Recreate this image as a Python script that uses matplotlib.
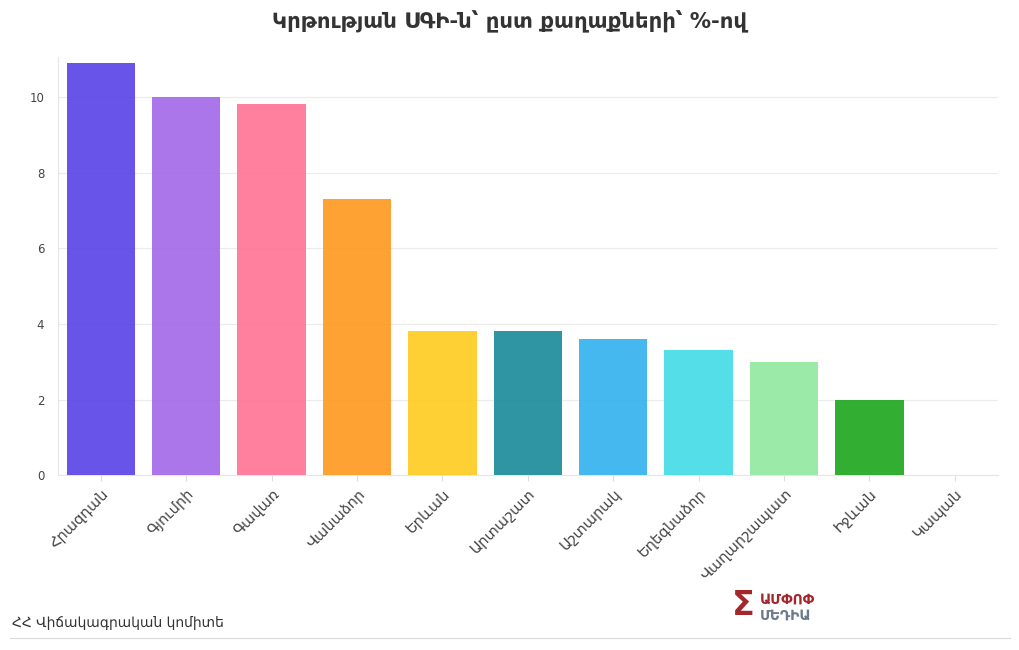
import matplotlib.pyplot as plt

cities = ["Հրազդան", "Գյումրի", "Գավառ", "Վանաձոր", "Երևան", "Արտաշատ",
          "Աշտարակ", "Եղեգնաձոր", "Վաղարշապատ", "Իջևան", "Կապան"]
values = [10.9, 10.0, 9.8, 7.3, 3.8, 3.8, 3.6, 3.3, 3.0, 2.0, 0.0]
colors = ["#5b45e8", "#a36ae8", "#ff7596", "#ff9a22", "#ffcc22", "#1e8c9a",
          "#36b2ef", "#45dde6", "#94e9a0", "#20a820", "#cccccc"]
title = "Կրթության ՍԳԻ-ն՝ ըստ քաղաքների՝ %-ով"
source = "ՀՀ Վիճակագրական կոմիտե"

plt.rcParams['font.family'] = ['DejaVu Sans']

fig = plt.figure(figsize=(10.2, 6.5), dpi=100)
ax = fig.add_axes([0.057, 0.269, 0.921, 0.643])

x = range(len(cities))
ax.bar(x, values, width=0.8, color=colors, alpha=0.92, zorder=3)

ax.set_xlim(-0.5, len(cities) - 0.5)
ax.set_ylim(0, 11.05)
ax.set_yticks([0, 2, 4, 6, 8, 10])
ax.set_xticks(list(x))
ax.set_xticklabels(cities, rotation=45, ha='right', rotation_mode='anchor',
                   fontsize=10.5, color='#444444')
ax.tick_params(axis='y', labelsize=8.5, colors='#444444', length=0, pad=10)
ax.tick_params(axis='x', length=4, color='#dddddd', pad=4)
ax.grid(axis='y', color='#ebebeb', linewidth=0.8, zorder=0)

for side in ['top', 'right']:
    ax.spines[side].set_visible(False)
for side in ['left', 'bottom']:
    ax.spines[side].set_color('#e6e6e6')
    ax.spines[side].set_linewidth(0.8)

fig.text(0.5, 0.966, title, ha='center', va='center', fontsize=15.3,
         fontweight='bold', color='#333333')
fig.text(0.012, 0.041, source, ha='left', va='center', fontsize=10, color='#333333')
fig.add_artist(plt.Line2D([0.01, 0.99], [0.018, 0.018], color='#d9d9d9', linewidth=0.8))

# logo stand-in
fig.text(0.718, 0.068, "Σ", ha='left', va='center', fontsize=24, color='#a3282d', fontweight='bold')
fig.text(0.745, 0.077, "ԱՄՓՈՓ", ha='left', va='center', fontsize=10, color='#a3282d', fontweight='bold')
fig.text(0.745, 0.053, "ՄԵԴԻԱ", ha='left', va='center', fontsize=10, color='#6d7a8c', fontweight='bold')

fig.savefig('out.png', dpi=100, facecolor='white')
